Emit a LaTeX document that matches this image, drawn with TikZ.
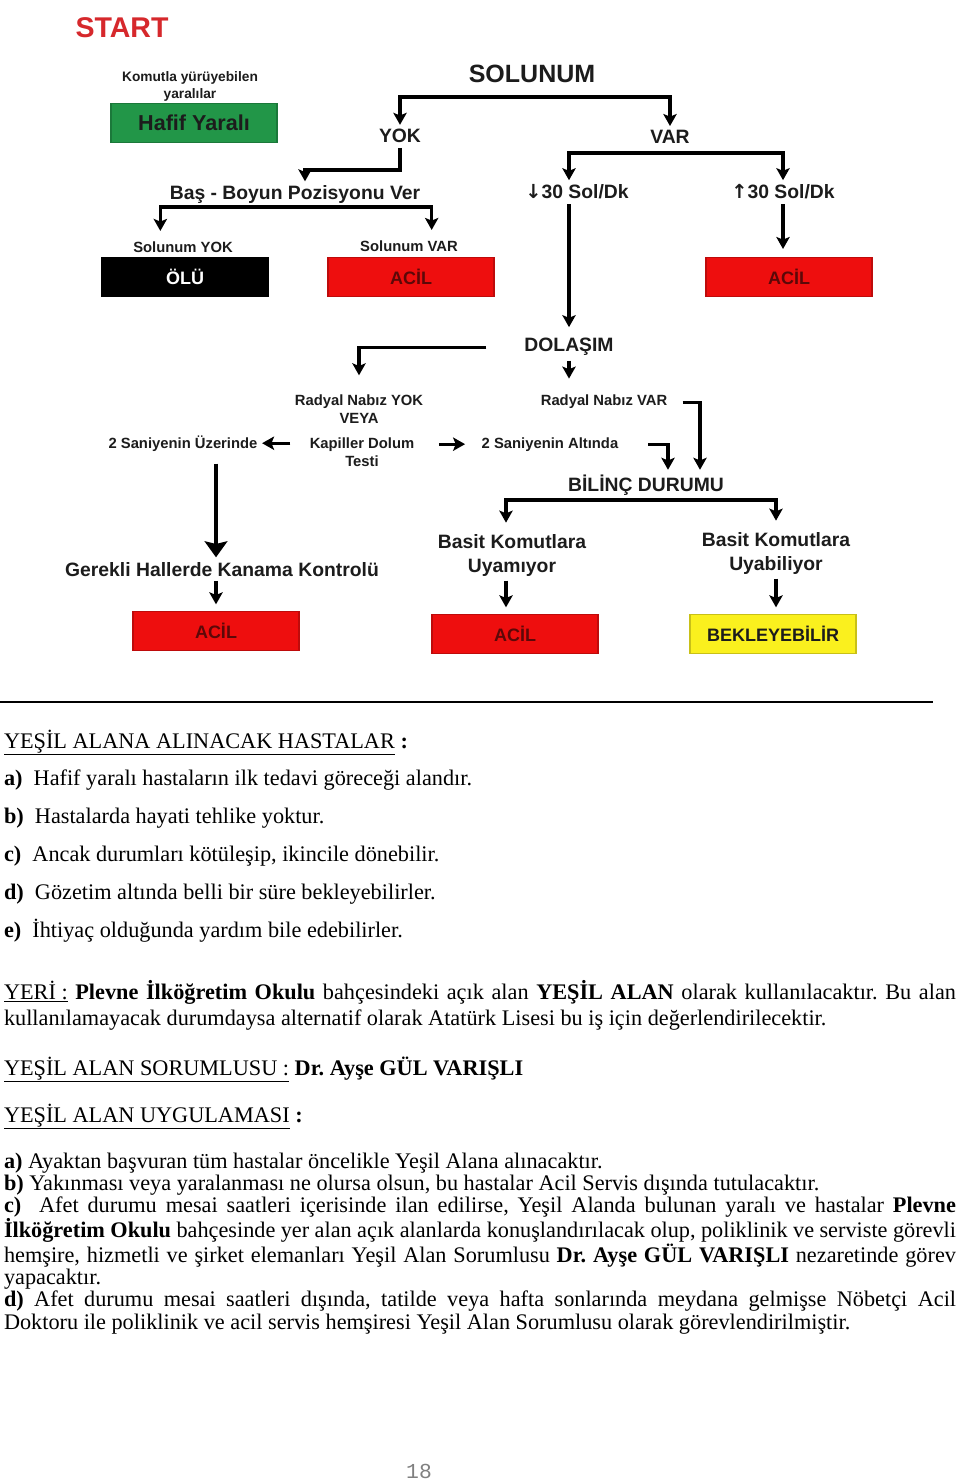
\documentclass[tikz,border=0pt]{standalone}
\usepackage{fontspec}
\setmainfont{Liberation Serif}
\newfontfamily\chartfont{Liberation Sans}
\newfontfamily\arrowglyphs{DejaVu Sans}
\newfontfamily\pagenumfont{Liberation Mono}
\usetikzlibrary{positioning, arrows.meta}
\frenchspacing

\definecolor{startred}{RGB}{214,40,44}
\definecolor{boxred}{RGB}{238,14,14}
\definecolor{boxgreen}{RGB}{34,150,72}
\definecolor{boxyellow}{RGB}{250,240,30}
\definecolor{acilink}{RGB}{92,8,8}
\definecolor{ink}{RGB}{28,28,28}

\begin{document}
\begin{tikzpicture}[x=0.75pt, y=-0.75pt,
every node/.style = {inner sep=2pt, outer sep=1.5pt},
        big/.style = {font=\chartfont\bfseries\fontsize{14.5}{18}\selectfont, text=ink},
      small/.style = {font=\chartfont\bfseries\fontsize{11.1}{13.5}\selectfont, text=ink},
        box/.style = {rectangle, draw=#1!80!black, fill=#1, line width=0.8pt,
                     minimum width=124.5pt, minimum height=29pt,
                     font=\chartfont\bfseries\fontsize{13.5}{16}\selectfont, text=acilink},
       link/.style = {line width=2.4pt, -{Stealth[length=9pt,width=10pt,inset=2pt]}},
       fork/.style = {line width=2.4pt, {Stealth[length=9pt,width=10pt,inset=2pt]}-{Stealth[length=9pt,width=10pt,inset=2pt]}},
    bigarrow/.style = {line width=2.6pt, -{Stealth[length=12pt,width=17pt,inset=2pt]}},
       body/.style = {inner sep=0pt, outer sep=0pt, anchor=base west,
                     font=\fontsize{16.7}{16.65}\selectfont}
                        ]
\fill[white] (0,0) rectangle (960,1483);
\useasboundingbox (0,0) rectangle (960,1483);

\node[big, anchor=base, font=\chartfont\bfseries\fontsize{21.4}{24}\selectfont, text=startred] (start) at (122,38) {START};
\node[small, align=center, font=\chartfont\bfseries\fontsize{10.3}{12.8}\selectfont] (komut) at (190,86) {Komutla yürüyebilen\\yaralılar};
\node[box=boxgreen, text=ink, font=\chartfont\bfseries\fontsize{16.2}{18}\selectfont] (hafif) at (194,123) {Hafif Yaralı};

\node[big, anchor=base, font=\chartfont\bfseries\fontsize{18.75}{22}\selectfont] (solunum) at (532,83) {SOLUNUM};
\node[big, anchor=base] (yok) at (400,143) {YOK};
\node[big, anchor=base] (var) at (670,144) {VAR};
\node[big, anchor=base] (bas) at (295,200) {Baş - Boyun Pozisyonu Ver};
\node[small, anchor=base] (solyok) at (183,253) {Solunum YOK};
\node[small, anchor=base] (solvar) at (409,252) {Solunum VAR};
\node[box=black, text=white] (olu) at (185,277) {ÖLÜ};
\node[box=boxred] (acilA) at (411,277) {ACİL};
\node[big, anchor=base] (az) at (577,199) {{\arrowglyphs ↓}30 Sol/Dk};
\node[big, anchor=base] (cok) at (783,199) {{\arrowglyphs ↑}30 Sol/Dk};
\node[box=boxred] (acilB) at (789,277) {ACİL};

\node[big, anchor=base] (dolasim) at (569,352) {DOLAŞIM};
\node[small, anchor=base] (nabizvar) at (604,406) {Radyal Nabız VAR};
\node[small, align=center] (nabizyok) at (359,409) {Radyal Nabız YOK\\VEYA};
\node[small, align=center] (kapiller) at (362,452) {Kapiller Dolum\\Testi};
\node[small, anchor=base] (uzerinde) at (183,448) {2 Saniyenin Üzerinde};
\node[small, anchor=base] (altinda) at (550,448) {2 Saniyenin Altında};
\node[big, anchor=base] (bilinc) at (646,491) {BİLİNÇ DURUMU};
\node[big, align=center] (uyamiyor) at (512,555) {Basit Komutlara\\Uyamıyor};
\node[big, align=center] (uyabiliyor) at (776,553) {Basit Komutlara\\Uyabiliyor};
\node[big, anchor=base] (kanama) at (222,576) {Gerekli Hallerde Kanama Kontrolü};
\node[box=boxred] (acilD) at (216,631) {ACİL};
\node[box=boxred] (acilC) at (515,634) {ACİL};
\node[box=boxyellow, text=ink] (bekle) at (773,634) {BEKLEYEBİLİR};

\coordinate (solbar) at (532,97);
\coordinate (basin) at (305,170);
\coordinate (basbar) at (295,207);
\coordinate (varbar) at (675,153);
\coordinate (bilbar) at (646,500);

\draw[fork] (yok.north) |- (solbar) -| (var.north);
\draw[link] (yok.south) |- (basin) -- (basin |- bas.north);
\draw[fork, shorten <=5pt, shorten >=5pt] ([xshift=-17pt]solyok.north) |- (basbar) -| ([xshift=17pt]solvar.north);
\draw[fork] (az.north -| dolasim) |- (varbar) -| (cok.north);
\draw[link, shorten >=5pt] (az.south -| dolasim) -- (dolasim.north);
\draw[link, shorten >=5pt] (cok.south) -- (cok.south |- acilB.north);
\draw[link, shorten <=25pt, shorten >=11pt] (dolasim.west) -| (nabizyok.north);
\draw[link, shorten >=9pt] (dolasim.south) -- (dolasim.south |- nabizvar.north);
\draw[link, shorten <=11pt] (kapiller.west |- uzerinde) -- (uzerinde.east);
\draw[link, shorten <=15pt, shorten >=9pt] (kapiller.east |- altinda) -- (altinda.west);
\draw[link, shorten <=19pt] (altinda.east) -| ([xshift=16.5pt]bilinc.north);
\draw[link, shorten <=8pt] (nabizvar.east) -| ([xshift=40.5pt]bilinc.north);
\draw[fork, shorten <=5pt, shorten >=5pt] ([xshift=-4.5pt]uyamiyor.north) |- (bilbar) -| (uyabiliyor.north);
\draw[link, shorten >=4pt] ([xshift=-4.5pt]uyamiyor.south) -- ([xshift=-4.5pt]uyamiyor.south |- acilC.north);
\draw[link, shorten >=4pt] (uyabiliyor.south) -- (uyabiliyor.south |- bekle.north);
\draw[bigarrow, shorten <=6pt] (uzerinde.south -| acilD) -- (kanama.north -| acilD);
\draw[link, shorten >=4pt] (kanama.south -| acilD) -- (acilD.north);

\coordinate (ruleL) at (0,702);
\coordinate (ruleR) at (933,702);
\draw[line width=1.1pt] (ruleL) -- (ruleR);

\node[body] (hasta) at (4,748) {\underline{YEŞİL ALANA ALINACAK HASTALAR} \textbf{:}};
\node[body] (ha) at (4,785) {\textbf{a)}\ \ Hafif yaralı hastaların ilk tedavi göreceği alandır.};
\node[body] (hb) at (4,823) {\textbf{b)}\ \ Hastalarda hayati tehlike yoktur.};
\node[body] (hc) at (4,861) {\textbf{c)}\ \ Ancak durumları kötüleşip, ikincile dönebilir.};
\node[body] (hd) at (4,899) {\textbf{d)}\ \ Gözetim altında belli bir süre bekleyebilirler.};
\node[body] (he) at (4,937) {\textbf{e)}\ \ İhtiyaç olduğunda yardım bile edebilirler.};

\node[body, text width=714pt, align=justify, font=\fontsize{16.7}{19.5}\selectfont] (yeri) at (4,999)
  {\underline{YERİ :} \textbf{Plevne İlköğretim Okulu} bahçesindeki açık alan \textbf{YEŞİL ALAN} olarak kullanılacaktır. Bu alan\linebreak
   kullanılamayacak durumdaysa alternatif olarak Atatürk Lisesi bu iş için değerlendirilecektir.};

\node[body] (sorumlu) at (4,1075) {\underline{YEŞİL ALAN SORUMLUSU :} \textbf{Dr. Ayşe GÜL VARIŞLI}};
\node[body] (uygulama) at (4,1122) {\underline{YEŞİL ALAN UYGULAMASI} \textbf{:}};

\node[body, text width=714pt, align=justify] (kurallar) at (4,1168)
  {\textbf{a)} Ayaktan başvuran tüm hastalar öncelikle Yeşil Alana alınacaktır.\\
   \textbf{b)} Yakınması veya yaralanması ne olursa olsun, bu hastalar Acil Servis dışında tutulacaktır.\\
   \textbf{c)}\ \ Afet durumu mesai saatleri içerisinde ilan edilirse, Yeşil Alanda bulunan yaralı ve hastalar \textbf{Plevne}\linebreak
   \textbf{İlköğretim Okulu} bahçesinde yer alan açık alanlarda konuşlandırılacak olup, poliklinik ve serviste görevli\linebreak
   hemşire, hizmetli ve şirket elemanları Yeşil Alan Sorumlusu \textbf{Dr. Ayşe GÜL VARIŞLI} nezaretinde görev\linebreak
   yapacaktır.\\
   \textbf{d)} Afet durumu mesai saatleri dışında, tatilde veya hafta sonlarında meydana gelmişse Nöbetçi Acil\linebreak
   Doktoru ile poliklinik ve acil servis hemşiresi Yeşil Alan Sorumlusu olarak görevlendirilmiştir.};

\node[font=\pagenumfont\fontsize{16}{18}\selectfont, text=gray, anchor=base] (sayfa) at (419,1478) {18};
\end{tikzpicture}
\end{document}
